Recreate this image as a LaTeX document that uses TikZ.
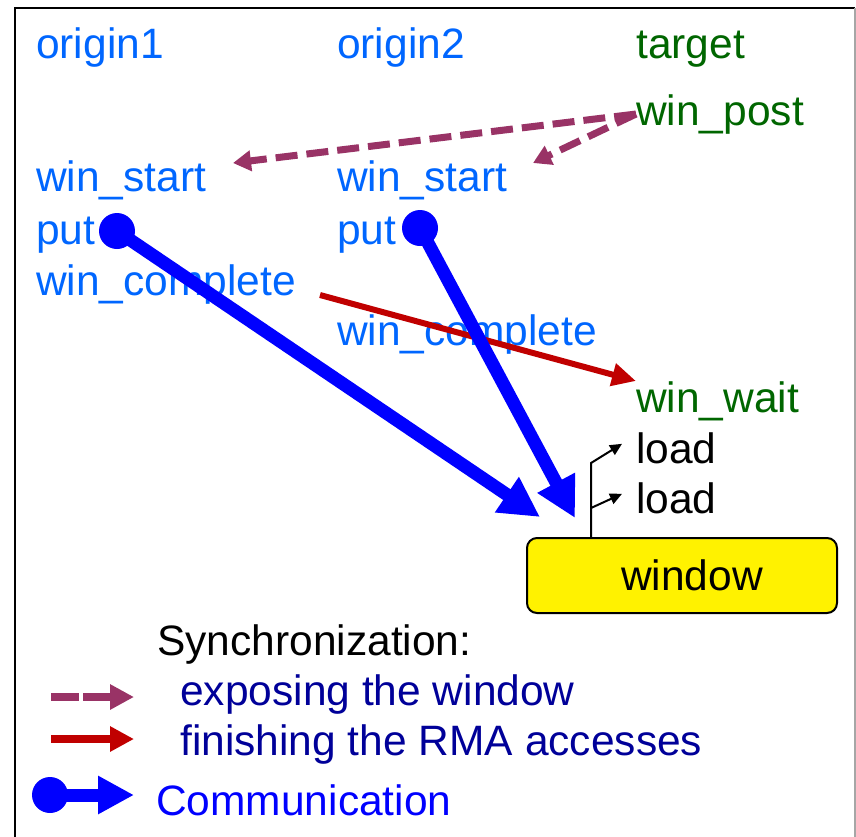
\documentclass[tikz,border=0pt]{standalone}
\usepackage{fontspec}
\setmainfont{Liberation Sans}
\usetikzlibrary{arrows.meta,positioning}
\definecolor{orgc}{RGB}{0,102,255}\definecolor{tgtc}{RGB}{0,102,0}
\definecolor{expc}{RGB}{153,51,102}\definecolor{finc}{RGB}{192,0,0}
\definecolor{comc}{RGB}{0,0,255}\definecolor{lgc}{RGB}{0,0,153}
\tikzset{lb/.style={anchor=base west,inner sep=0pt,font=\fontsize{42.5}{50}\selectfont},org/.style={lb,text=orgc},tgt/.style={lb,text=tgtc},
dot/.style={circle,fill=comc,minimum size=36pt,inner sep=0pt},
expo/.style={expc,line width=7pt,dash pattern=on 22pt off 9pt,-{Triangle[length=18pt,width=20pt]}},
fin/.style={finc,line width=6pt,-{Triangle[length=24pt,width=22pt]}},
comm/.style={comc,line width=13pt,-{Triangle[length=40pt,width=40pt]}},
ld/.style={line width=2pt,-{Triangle[length=12pt,width=11pt]}}}

\begin{document}
\begin{tikzpicture}[x=1pt,y=-1pt]
\useasboundingbox(0,0)rectangle(856,836);
\draw[line width=2pt](15,850)--(15,8)--(855,8);\draw[line width=2pt,gray!70](855,8)--(855,850);
\node[org](o1)at(36,58){origin1};\node[org](o2)at(337,58){origin2};\node[tgt](tg)at(636,58){target};
\node[tgt](wp)at(636,125){win\_post};
\node[org](ws1)at(36,191){win\_start};\node[org](ws2)at(337,191){win\_start};
\node[org](pu1)at(36,244){put};\node[org](pu2)at(337,244){put};
\node[org](wc1)at(36,295){win\_complete};\node[org](wc2)at(337,345){win\_complete};
\node[tgt](ww)at(636,412){win\_wait};
\node[lb](l1)at(636,463){load};\node[lb](l2)at(636,513){load};
\node[draw,line width=2pt,fill=yellow,rounded corners=10pt,minimum width=310pt,minimum height=75pt,font=\fontsize{42.5}{50}\selectfont](win)at(682,575.5){\hspace*{20pt}window};
\node[dot](d1)at(117,231){};\node[dot](d2)at(420,228){};
\coordinate(e1)at(233,163);\coordinate(e2)at(533,163);\coordinate(rs)at(320,295);
\coordinate(c1)at(540,517);\coordinate(c2)at(575,518);\coordinate(lw)at(591,538);
% exposing / finishing / communication
\foreach\b in{e1,e2}\draw[expo](wp.west)--(\b);
\draw[fin](rs)--(ww.north west);
\draw[comm](d1.center)--(c1);\draw[comm](d2.center)--(c2);
\draw[ld](lw)--(591,463)--([xshift=-14pt,yshift=4pt]l1.west);
\draw[ld](591,508)--([xshift=-14pt,yshift=4pt]l2.west);
% legend
\node[lb](sy)at(157,655){Synchronization:};
\node[lb,text=lgc](le)at(180,705){exposing the window};
\node[lb,text=lgc](lf)at(180,755){finishing the RMA accesses};
\node[lb,text=comc](lc)at(156,815){Communication};
\draw[expo,line width=8pt,dash pattern=on 28pt off 4pt,-{Triangle[length=24pt,width=24pt]}](51,697)--(134,697);
\draw[fin,line width=8pt,-{Triangle[length=24pt,width=24pt]}](51,739)--(134,739);
\node[dot](ld)at(50,795){};\draw[comm,-{Triangle[length=36pt,width=36pt]}](ld.center)--(134,795);
\end{tikzpicture}
\end{document}
